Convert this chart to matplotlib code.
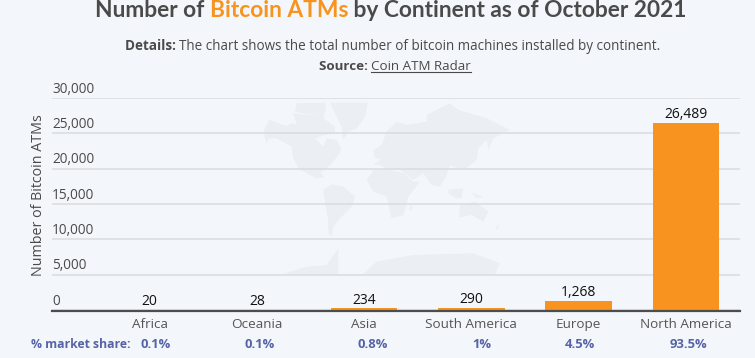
import numpy as np
import matplotlib
matplotlib.use('Agg')
import matplotlib.pyplot as plt
from matplotlib.patches import Polygon
from matplotlib.lines import Line2D

plt.rcParams['font.family'] = ['Open Sans', 'DejaVu Sans']

continents = ['Africa', 'Oceania', 'Asia', 'South America', 'Europe', 'North America']
atms = [20, 28, 234, 290, 1268, 26489]
shares = ['0.1%', '0.1%', '0.8%', '1%', '4.5%', '93.5%']
share_x = [156, 260, 373, 482, 580, 688]
yticks = [0, 5000, 10000, 15000, 20000, 25000, 30000]

bg = '#f3f6fa'
orange = '#f7931e'
dark = '#4a4a4a'
blue = '#5663a6'
W, H = 755, 358

# rough world map watermark, traced at 3x from x=200, y=90 of the picture
world = [
    [(190, 125), (208, 90), (260, 108), (275, 100), (290, 105), (280, 70), (320, 75), (375, 65), (370, 85), (405, 110),
     (405, 130), (375, 135), (345, 145), (370, 170), (380, 145), (410, 150), (425, 180), (400, 215), (375, 240),
     (360, 245), (372, 262), (350, 265), (330, 255), (295, 235), (280, 205), (275, 170), (230, 145), (205, 145),
     (200, 165)],
    [(290, 40), (375, 38), (378, 65), (320, 72), (285, 65)],
    [(390, 38), (503, 38), (495, 80), (470, 115), (445, 125), (430, 150), (425, 110), (405, 70)],
    [(370, 300), (395, 283), (430, 290), (465, 320), (455, 350), (420, 385), (400, 410), (395, 440), (385, 430),
     (385, 390), (375, 340)],
    [(520, 225), (545, 205), (525, 205), (520, 180), (545, 165), (560, 125), (590, 95), (620, 105), (680, 95),
     (680, 75), (750, 40), (775, 60), (860, 85), (930, 120), (880, 145), (865, 180), (860, 150), (835, 175),
     (830, 210), (805, 230), (780, 240), (750, 225), (740, 255), (720, 290), (695, 285), (670, 250), (640, 270),
     (600, 240), (570, 240), (540, 225)],
    [(520, 240), (570, 240), (610, 250), (640, 275), (660, 275), (625, 320), (610, 375), (575, 385), (560, 320),
     (520, 305), (500, 270)],
    [(780, 345), (825, 335), (865, 365), (850, 395), (815, 375), (778, 382)],
    [(745, 300), (790, 295), (785, 325), (770, 325), (745, 310)],
    [(815, 308), (850, 320), (830, 325)],
    [(640, 340), (632, 365), (628, 355)],
    [(900, 400), (890, 420), (888, 412)],
    [(250, 552), (320, 530), (380, 525), (415, 475), (415, 552)],
    [(490, 552), (530, 515), (640, 495), (820, 490), (900, 520), (885, 552)],
]

fig = plt.figure(figsize=(W / 100, H / 100), dpi=100, facecolor=bg)
ax = fig.add_axes([52 / W, 1 - 310 / H, 688 / W, 212 / H])
ax.set_facecolor('none')

to_fig = lambda x, y: ((200 + x / 3) / W, 1 - (90 + y / 3) / H)

for shape in world:
    fig.add_artist(Polygon([to_fig(x, y) for x, y in shape], closed=True, transform=fig.transFigure,
                           facecolor='#ebeef2', edgecolor='none', zorder=-1))

pos = np.arange(len(continents))
ax.bar(pos, atms, width=0.62, color=orange, zorder=3)
ax.set_xlim(-0.909, 5.503)
ax.set_ylim(0, 30000)

ax.set_yticks(yticks)
ax.set_yticklabels([])
ax.set_xticks([])
ax.tick_params(left=False)
ax.grid(axis='y', color='#d9dcdf', lw=1.1, zorder=1)
for s in ['top', 'left', 'right']:
    ax.spines[s].set_visible(False)
ax.spines['bottom'].set_color('#4d4d4d')
ax.spines['bottom'].set_linewidth(1.6)
ax.spines['bottom'].set_position(('outward', 0.8))
ax.spines['bottom'].set_zorder(4)

for t in yticks:
    ax.annotate(f'{t:,}', (0, t), xycoords=('axes fraction', 'data'), xytext=(0, 1), textcoords='offset points',
                ha='left', va='bottom', fontsize=9.8, color='#4a4a4a')

for p, v in zip(pos, atms):
    ax.annotate(f'{v:,}', (p, v), xytext=(0, 0.5), textcoords='offset points', ha='center', va='bottom',
                fontsize=10, color='#111111', zorder=5)

for p, c in zip(pos, continents):
    ax.annotate(c, (p, 0), xycoords=('data', 'axes fraction'), xytext=(0, -5.5), textcoords='offset points',
                ha='center', va='top', fontsize=9.7, color='#555555')

fig.text(38.5 / W, 1 - 195 / H, 'Number of Bitcoin ATMs', rotation=90, ha='center', va='center', fontsize=10.3,
         color='#4a4a4a')

fig.text(31 / W, 1 - 345 / H, '% market share:', ha='left', va='center', fontsize=8.8, fontweight='bold', color=blue)
for x, s in zip(share_x, shares):
    fig.text(x / W, 1 - 345 / H, s, ha='center', va='center', fontsize=9.4, fontweight='bold', color=blue)


def text_row(parts, x, y, family=None):
    # parts laid out one after the other from pixel x on the baseline y
    r = fig.canvas.get_renderer()
    out = []
    for s, size, weight, col in parts:
        t = fig.text(x / W, 1 - y / H, s, ha='left', va='baseline', fontsize=size, fontweight=weight, color=col)
        if family:
            t.set_family(family)
        x = t.get_window_extent(r).x1
        out.append(t)
    return out


text_row([('Number of ', 16.4, 'bold', dark), ('Bitcoin ATMs', 16.4, 'bold', orange),
          (' by Continent as of October 2021', 16.4, 'bold', dark)], 95, 17, family='Lato')
text_row([('Details: ', 9.75, 'bold', dark),
          ('The chart shows the total number of bitcoin machines installed by continent.', 9.75, 'normal', dark)], 125, 50)
src = text_row([('Source: ', 9.6, 'bold', dark), ('Coin ATM Radar', 9.6, 'normal', dark)], 319, 70)

box = src[1].get_window_extent(fig.canvas.get_renderer())
fig.add_artist(Line2D([box.x0 / W, box.x1 / W], [1 - 71.5 / H] * 2, color=dark, lw=0.8, transform=fig.transFigure))

fig.savefig('out.png', dpi=100, facecolor=bg)
